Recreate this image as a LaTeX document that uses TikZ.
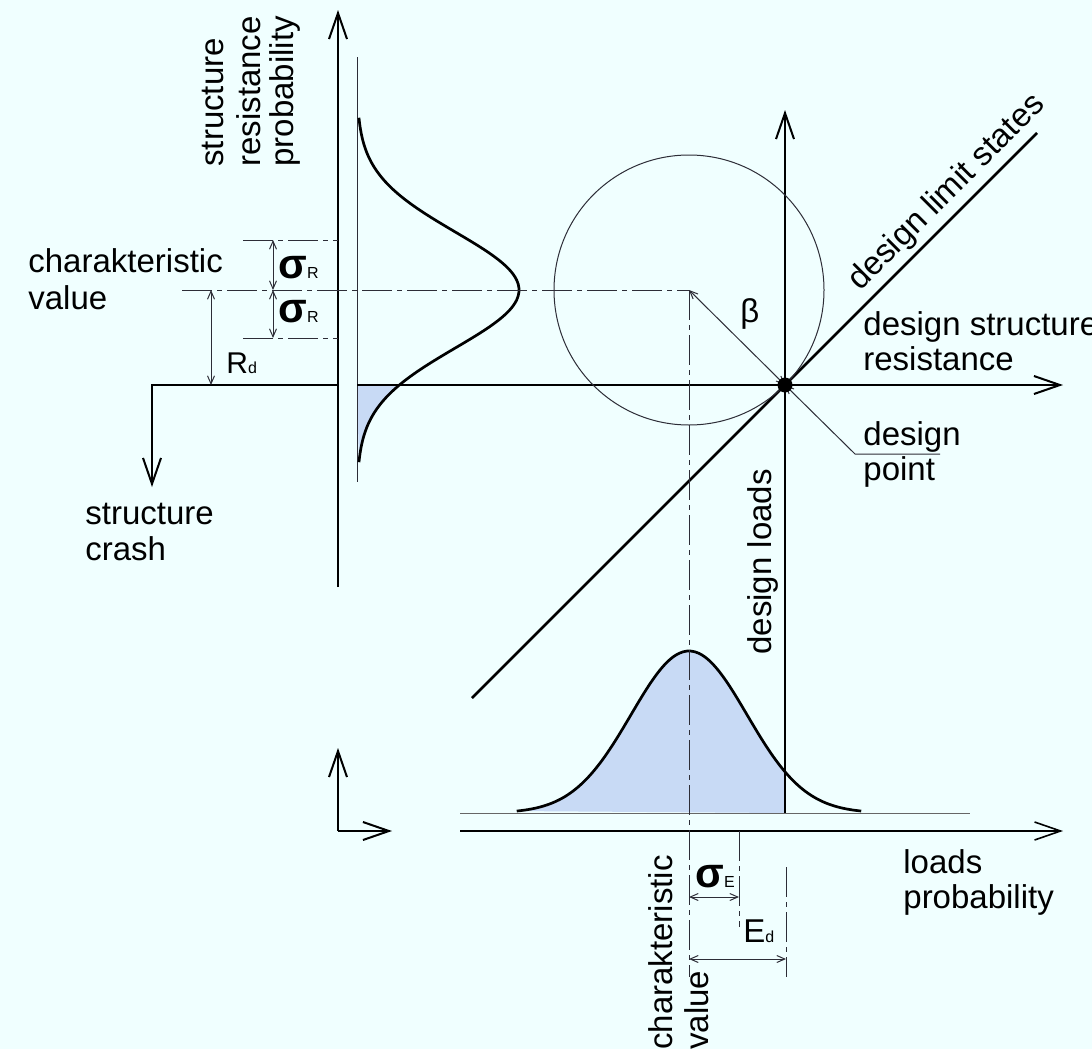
\documentclass[tikz,border=0pt]{standalone}
\usepackage{fontspec}
\setmainfont{Liberation Sans}
\usetikzlibrary{arrows.meta}
\definecolor{bgc}{RGB}{240,255,255}
\definecolor{fillc}{RGB}{200,218,245}
\definecolor{thinc}{RGB}{45,45,55}
\newcommand\mylab{\fontsize{16.5pt}{18pt}\selectfont}
\newcommand\mysig{{\fontsize{21pt}{21pt}\selectfont\bfseries σ}}
\newcommand\mysub[1]{{\fontsize{8pt}{8pt}\selectfont #1}}
\begin{document}
\begin{tikzpicture}[x=0.5pt,y=-0.5pt,
  thickl/.style={line width=1.35pt, black},
  axisl/.style={line width=1pt, black},
  thinl/.style={line width=0.5pt, thinc},
  ddash/.style={thinl, dash pattern=on 15pt off 2.5pt on 2.5pt off 2.5pt},
  barb/.style={-{Straight Barb[length=13pt,width=9pt]}},
  dimarr/.style={thinl, {Straight Barb[length=4pt,width=3.5pt]}-{Straight Barb[length=4pt,width=3.5pt]}},
  lab/.style={font=\mylab, inner sep=0pt},
  symb/.style={inner sep=0pt, anchor=base west},
]
\useasboundingbox (0,0) rectangle (1092,1049);
\fill[bgc] (0,0) rectangle (1092,1049);

% key points
\coordinate (ax1top) at (338,10);
\coordinate (ax1bot) at (338,587);
\coordinate (b1top) at (357,57);
\coordinate (b1bot) at (357,482);
\coordinate (hleft) at (338,385);
\coordinate (corner) at (152,385);
\coordinate (crash) at (152,487);
\coordinate (hstart) at (357,385);
\coordinate (hend) at (1063,385);
\coordinate (dp) at (785,385);
\coordinate (vtop) at (785,110);
\coordinate (vbot) at (785,813);
\coordinate (lsA) at (472,698);
\coordinate (lsB) at (1037,133);
\coordinate (cv) at (689,290);
\coordinate (ldA) at (855,454);
\coordinate (ldB) at (940,454);
\coordinate (blA) at (460,813);
\coordinate (blB) at (970,813);
\coordinate (h2A) at (460,831);
\coordinate (h2B) at (1063,831);
\coordinate (Lc) at (338,831);
\coordinate (Lup) at (338,748);
\coordinate (Lrt) at (392,831);

% fills
\fill[fillc] (357,385) -- plot[domain=1.638:2.97, samples=40, smooth] ({357+162*exp(-(\x)^2/2)},{290+58*\x}) -- cycle;
\fill[fillc] plot[domain=-2.97:1.655, samples=80, smooth] ({689+58*\x},{813-162*exp(-(\x)^2/2)}) -- (785,813) -- cycle;

% resistance side
\draw[axisl, barb] (ax1bot) -- (ax1top);
\draw[thinl] (b1top) -- (b1bot);
\draw[axisl, barb] (hleft) -- (corner) -- (crash);
\draw[thickl] plot[domain=-2.97:2.97, samples=90, smooth] ({357+162*exp(-(\x)^2/2)},{290+58*\x});

% dimension lines (resistance)
\coordinate (s1L) at (243,240); \coordinate (s1R) at (338,240);
\coordinate (s2L) at (243,338); \coordinate (s2R) at (338,338);
\coordinate (cL) at (182,290);
\draw[ddash] (s1L) -- (s1R);
\draw[ddash] (s2L) -- (s2R);
\draw[ddash] (cL) -- (cv);
\coordinate (sa1) at (273,240); \coordinate (sa2) at (273,290); \coordinate (sa3) at (273,338);
\draw[dimarr] (sa1) -- (sa2);
\draw[dimarr] (sa2) -- (sa3);
\coordinate (rd1) at (211,290); \coordinate (rd2) at (211,385);
\draw[dimarr] (rd1) -- (rd2);

% main axes
\draw[axisl, barb] (hstart) -- (hend);
\draw[axisl, barb] (vbot) -- (vtop);
\draw[thickl] (lsA) -- (lsB);
\draw[thinl] (cv) circle[radius=135];
\draw[dimarr] (cv) -- (dp);
\draw[thinl, {Straight Barb[length=4pt,width=3.5pt]}-] (dp) -- (ldA) -- (ldB);
\fill[black] (dp) circle[radius=7.5];

% loads side
\draw[thinl, gray!80!black] (blA) -- (blB);
\draw[thickl] plot[domain=-2.97:2.97, samples=90, smooth] ({689+58*\x},{813-162*exp(-(\x)^2/2)});
\draw[axisl, line width=0.8pt, barb] (h2A) -- (h2B);
\draw[axisl, barb] (Lc) -- (Lup);
\draw[axisl, barb] (Lc) -- (Lrt);
\coordinate (cvb) at (689,977);
\draw[ddash] (cv) -- (cvb);
\coordinate (se1) at (739,831); \coordinate (se2) at (739,927);
\draw[ddash] (se1) -- (se2);
\coordinate (ed1) at (786,867); \coordinate (ed2) at (786,977);
\draw[ddash] (ed1) -- (ed2);
\coordinate (sea) at (689,897); \coordinate (seb) at (739,897);
\draw[dimarr] (sea) -- (seb);
\coordinate (eda) at (689,959); \coordinate (edb) at (786,959);
\draw[dimarr] (eda) -- (edb);

% texts
\node[lab, anchor=base west] (t1) at (28,272) {charakteristic};
\node[lab, anchor=base west] (t2) at (28,309) {value};
\node[lab, anchor=base west] (t3) at (85,524) {structure};
\node[lab, anchor=base west] (t4) at (85,560) {crash};
\node[lab, anchor=base west] (t5) at (863,335) {design structure};
\node[lab, anchor=base west] (t6) at (863,370) {resistance};
\node[lab, anchor=base west] (t7) at (863,445) {design};
\node[lab, anchor=base west] (t8) at (863,480) {point};
\node[lab, anchor=base west] (t9) at (903,873) {loads};
\node[lab, anchor=base west] (t10) at (903,908) {probability};
\node[lab, anchor=base west, rotate=90] (r1) at (223,167) {structure};
\node[lab, anchor=base west, rotate=90] (r2) at (260,167) {resistance};
\node[lab, anchor=base west, rotate=90] (r3) at (293,167) {probability};
\node[lab, anchor=base west, rotate=90] (r4) at (771,655) {design loads};
\node[lab, anchor=base west, rotate=90] (r5) at (672,1050) {charakteristic};
\node[lab, anchor=base west, rotate=90] (r6) at (708,1050) {value};
\node[lab, anchor=base west, rotate=45] (r7) at (860,292) {design limit states};

\node[symb] (sr1) at (278,278) {\mysig\mysub{R}};
\node[symb] (sr2) at (278,322) {\mysig\mysub{R}};
\node[symb] (rd) at (226,373) {{\fontsize{15pt}{15pt}\selectfont R}\mysub{d}};
\node[symb] (beta) at (740,322) {\mylab β};
\node[symb] (se) at (695,887) {\mysig\mysub{E}};
\node[symb] (ed) at (743,942) {{\mylab E}\mysub{d}};
\end{tikzpicture}
\end{document}
